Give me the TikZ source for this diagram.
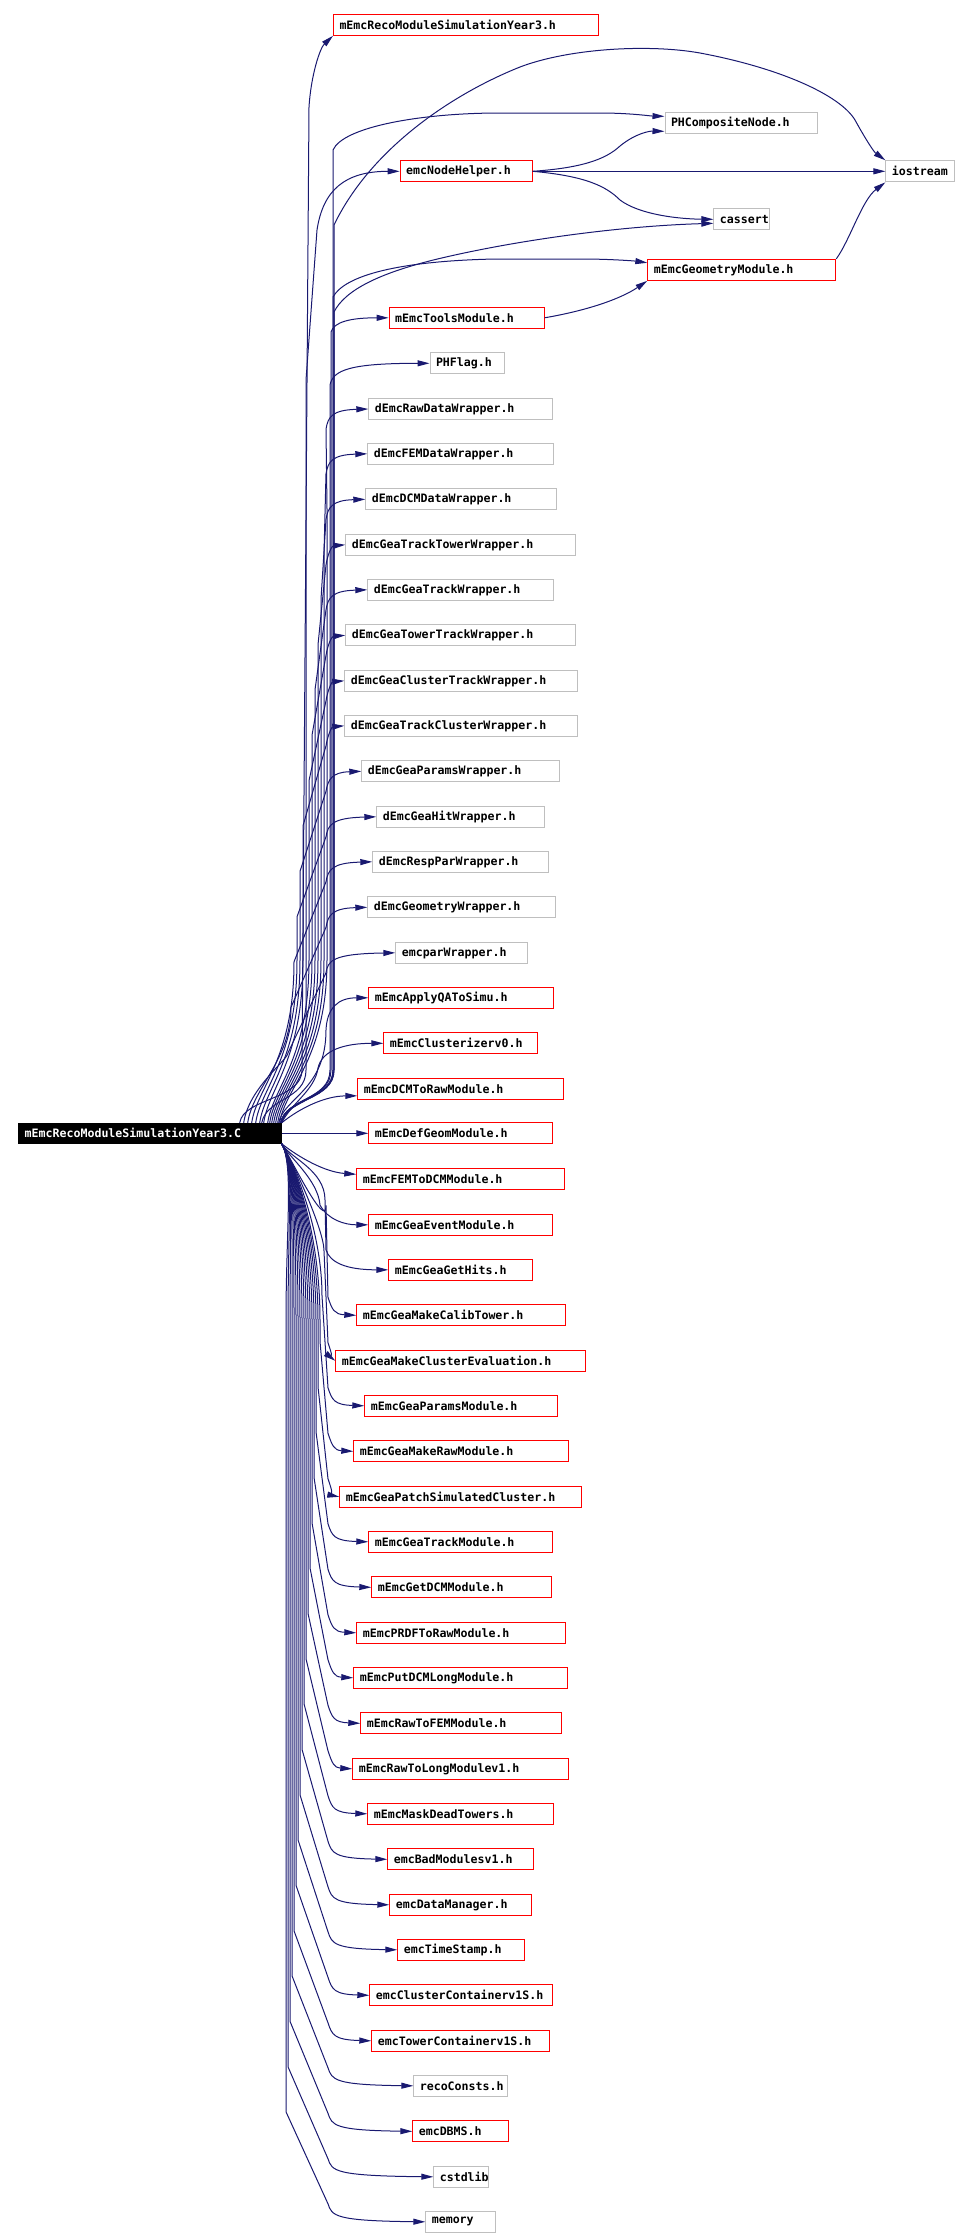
\documentclass[tikz,border=0pt]{standalone}
\usepackage{fontspec}
\newfontfamily\dmono{DejaVu Sans Mono}
\usetikzlibrary{arrows.meta}
\definecolor{eblue}{RGB}{25,25,112}
\definecolor{bred}{RGB}{255,0,0}
\definecolor{bgray}{RGB}{191,191,191}
\tikzset{
  hbox/.style={draw, line width=1pt, inner xsep=6pt, inner ysep=0pt, minimum height=21pt,
    align=left, anchor=west, font=\dmono\bfseries\fontsize{11.6}{13}\selectfont, text=black},
  redbox/.style={hbox, draw=bred},
  graybox/.style={hbox, draw=bgray},
  edge/.style={draw=eblue, line width=1pt, -{Triangle[length=12pt,width=6pt]}}
}
\newcommand\upE[4]{\draw[edge] ([xshift=-#4pt]main.north east) .. controls +(5,-35) and (#2,1060) .. (#2,{max(960,#3+100)}) -- (#2,#3+100) -- (326,#3+20) .. controls (328,#3+8) and (332,#3+1) .. (#1.west);}
\newcommand\dnE[3]{\draw[edge] (main.south east) .. controls +(12,20) and (#2,1230) .. (#2,{min(1320,#3-110)}) -- (#2,#3-110) -- (328,#3-18) .. controls (332,#3-6) and (334,#3-1) .. (#1.west);}
\begin{document}
\begin{tikzpicture}[x=1pt,y=-1pt]
\useasboundingbox (0,0) rectangle (959,2239);
% nodes
\node[redbox,text width=253pt] (year3h) at (333,24.8) {mEmcRecoModuleSimulationYear3.h};
\node[graybox,text width=140pt] (phcomp) at (664.5,123.3) {PHCompositeNode.h};
\node[redbox,text width=120pt] (nodehelper) at (399.7,171.3) {emcNodeHelper.h};
\node[graybox,text width=57pt] (iostream) at (885.4,171.3) {iostream};
\node[graybox,text width=44pt] (cassert) at (713.4,219.3) {cassert};
\node[redbox,text width=176pt] (geom) at (647.3,269.8) {mEmcGeometryModule.h};
\node[redbox,text width=143pt] (tools) at (388.6,317.8) {mEmcToolsModule.h};
\node[graybox,text width=62pt] (phflag) at (429.5,363.3) {PHFlag.h};
\node[graybox,text width=172pt] (raw) at (368.3,409) {dEmcRawDataWrapper.h};
\node[graybox,text width=174pt] (fem) at (367.3,453.8) {dEmcFEMDataWrapper.h};
\node[graybox,text width=179pt] (dcm) at (365.3,499.3) {dEmcDCMDataWrapper.h};
\node[graybox,text width=218pt] (tracktower) at (345.3,544.8) {dEmcGeaTrackTowerWrapper.h};
\node[graybox,text width=174pt] (track) at (367.3,589.8) {dEmcGeaTrackWrapper.h};
\node[graybox,text width=218pt] (towertrack) at (345.3,635.3) {dEmcGeaTowerTrackWrapper.h};
\node[graybox,text width=221pt] (clustertrack) at (344.3,680.8) {dEmcGeaClusterTrackWrapper.h};
\node[graybox,text width=221pt] (trackcluster) at (344.3,725.8) {dEmcGeaTrackClusterWrapper.h};
\node[graybox,text width=186pt] (params) at (361.3,771.3) {dEmcGeaParamsWrapper.h};
\node[graybox,text width=156pt] (hit) at (376.3,816.8) {dEmcGeaHitWrapper.h};
\node[graybox,text width=164pt] (resppar) at (372.3,861.8) {dEmcRespParWrapper.h};
\node[graybox,text width=176pt] (geomwrap) at (367.3,907.3) {dEmcGeometryWrapper.h};
\node[graybox,text width=120pt] (emcpar) at (395.3,952.8) {emcparWrapper.h};
\node[redbox,text width=173pt] (applyqa) at (368.3,997.8) {mEmcApplyQAToSimu.h};
\node[redbox,text width=142pt] (clusterizer) at (383.3,1043.3) {mEmcClusterizerv0.h};
\node[redbox,text width=194pt] (dcmtoraw) at (357.3,1088.8) {mEmcDCMToRawModule.h};
\node[redbox,text width=172pt] (defgeom) at (368.3,1133.3) {mEmcDefGeomModule.h};
\node[redbox,text width=196pt] (femtodcm) at (356.3,1179.3) {mEmcFEMToDCMModule.h};
\node[redbox,text width=172pt] (geaevent) at (368.3,1224.8) {mEmcGeaEventModule.h};
\node[redbox,text width=132pt] (gethits) at (388.3,1269.8) {mEmcGeaGetHits.h};
\node[redbox,text width=197pt] (calibtower) at (356.3,1315.3) {mEmcGeaMakeCalibTower.h};
\node[redbox,text width=238pt] (clustereval) at (335.3,1360.8) {mEmcGeaMakeClusterEvaluation.h};
\node[redbox,text width=181pt] (geaparams) at (364.3,1405.8) {mEmcGeaParamsModule.h};
\node[redbox,text width=203pt] (makeraw) at (353.3,1451.3) {mEmcGeaMakeRawModule.h};
\node[redbox,text width=230pt] (patch) at (339.3,1496.8) {mEmcGeaPatchSimulatedCluster.h};
\node[redbox,text width=172pt] (geatrack) at (368.3,1541.8) {mEmcGeaTrackModule.h};
\node[redbox,text width=168pt] (getdcm) at (371.3,1587.3) {mEmcGetDCMModule.h};
\node[redbox,text width=197pt] (prdf) at (356.3,1632.8) {mEmcPRDFToRawModule.h};
\node[redbox,text width=202pt] (putdcm) at (353.3,1677.8) {mEmcPutDCMLongModule.h};
\node[redbox,text width=189pt] (rawtofem) at (360.3,1723.3) {mEmcRawToFEMModule.h};
\node[redbox,text width=204pt] (rawtolong) at (352.3,1768.8) {mEmcRawToLongModulev1.h};
\node[redbox,text width=174pt] (mask) at (367.3,1813.8) {mEmcMaskDeadTowers.h};
\node[redbox,text width=134pt] (badmod) at (387.3,1859.3) {emcBadModulesv1.h};
\node[redbox,text width=130pt] (datamgr) at (389.3,1904.8) {emcDataManager.h};
\node[redbox,text width=115pt] (timestamp) at (397.3,1949.8) {emcTimeStamp.h};
\node[redbox,text width=171pt] (clustercont) at (369.3,1995.3) {emcClusterContainerv1S.h};
\node[redbox,text width=166pt] (towercont) at (371.3,2040.8) {emcTowerContainerv1S.h};
\node[graybox,text width=82pt] (reco) at (413.3,2085.8) {recoConsts.h};
\node[redbox,text width=84pt] (dbms) at (412.3,2131.3) {emcDBMS.h};
\node[graybox,text width=43pt] (cstdlib) at (433.3,2176.8) {cstdlib};
\node[graybox,text width=58pt] (memory) at (425.3,2221.8) {memory};
\node[hbox, draw=black, fill=black, text=white, minimum height=20pt, text width=250.5pt] (main) at (18.2,1133.3) {mEmcRecoModuleSimulationYear3.C};
% edges to the top nodes
\draw[edge] ([xshift=-42pt]main.north east) .. controls +(4,-25) and (302,1100) .. (302,1070) -- (309,107) .. controls (311,75) and (320,48) .. (year3h.south west);
\draw[edge] ([xshift=-1pt]main.north east) .. controls +(5,-25) and (333,1100) .. (333,1070) -- (333,150) .. controls (343,127) and (420,113) .. (500,113) -- (600,113) .. controls (630,113) and (650,116) .. ([yshift=7pt]phcomp.west);
\draw[edge] ([xshift=-20pt]main.north east) .. controls +(5,-25) and (306,1100) .. (306,1070) -- (306,380) -- (317,230) .. controls (323,190) and (345,171.3) .. (nodehelper.west);
\draw[edge] (main.north east) .. controls +(5,-25) and (334,1100) .. (334,1070) -- (334,225) .. controls (370,150) and (450,95) .. (520,67) .. controls (570,48) and (650,44) .. (700,53) .. controls (780,68) and (840,95) .. (855,120) .. controls (866,140) and (874,152) .. (iostream.north west);
\draw[edge] (main.north east) .. controls +(5,-25) and (334,1100) .. (334,1070) -- (334,312) .. controls (345,290) and (380,272) .. (446,257) .. controls (520,240) and (620,226) .. ([yshift=-4pt]cassert.west);
\draw[edge] ([xshift=-1pt]main.north east) .. controls +(5,-25) and (333,1100) .. (333,1070) -- (333,297) .. controls (345,275) and (400,261) .. (495,259) -- (582,259) .. controls (610,259) and (635,261) .. ([yshift=7pt]geom.west);
\draw[edge] ([xshift=-1pt]main.north east) .. controls +(5,-25) and (331,1100) .. (331,1070) -- (331,332) .. controls (334,322) and (350,317.8) .. (tools.west);
\draw[edge] ([xshift=-1pt]main.north east) .. controls +(5,-25) and (330,1100) .. (330,1070) -- (330,385) .. controls (333,370) and (350,363.3) .. (phflag.west);
% edges between the top nodes
\draw[edge] (nodehelper.east) .. controls (580,168) and (605,160) .. (620,146) .. controls (636,133) and (650,131) .. ([yshift=-8pt]phcomp.west);
\draw[edge] (nodehelper.east) -- (iostream.west);
\draw[edge] (nodehelper.east) .. controls (585,176) and (606,186) .. (620,200) .. controls (640,215) and (680,219) .. (cassert.west);
\draw[edge] (geom.north east) .. controls (850,240) and (862,200) .. (iostream.south west);
\draw[edge] (tools.east) .. controls (590,310) and (622,298) .. (geom.south west);
% upward edges
\upE{raw}{327}{409}{2}
\upE{fem}{324}{453.8}{4}
\upE{dcm}{321}{499.3}{6}
\upE{tracktower}{318}{544.8}{8}
\upE{track}{315}{589.8}{10}
\upE{towertrack}{312}{635.3}{12}
\upE{clustertrack}{309}{680.8}{14}
\upE{trackcluster}{303}{725.8}{18}
\upE{params}{300}{771.3}{22}
\upE{hit}{297}{816.8}{26}
\upE{resppar}{294}{861.8}{30}
\upE{geomwrap}{291}{907.3}{34}
\upE{emcpar}{288}{952.8}{38}
\draw[edge] ([xshift=-3pt]main.north east) .. controls +(5,-25) and (326,1090) .. (326,1030) .. controls (327,1008) and (338,997.8) .. (applyqa.west);
\draw[edge] (main.north east) .. controls +(10,-20) and (315,1090) .. (318,1068) .. controls (322,1050) and (345,1043.3) .. (clusterizer.west);
\draw[edge] (main.north east) .. controls (300,1108) and (325,1096) .. ([yshift=-7pt]dcmtoraw.west);
\draw[edge] (main.east) -- (defgeom.west);
\draw[edge] (main.south east) .. controls (300,1158) and (325,1172) .. ([yshift=5pt]femtodcm.west);
\draw[edge] (main.south east) .. controls +(8,14) and (318,1180) .. (320,1205) .. controls (328,1220) and (345,1224.8) .. (geaevent.west);
\draw[edge] (main.south east) .. controls +(8,14) and (325,1170) .. (325,1200) -- (326,1250) .. controls (330,1262) and (345,1269.8) .. (gethits.west);
% downward edges
\dnE{calibtower}{326}{1315.3}
\dnE{clustereval}{324}{1360.8}
\dnE{geaparams}{322}{1405.8}
\dnE{makeraw}{320}{1451.3}
\dnE{patch}{318}{1496.8}
\dnE{geatrack}{316}{1541.8}
\dnE{getdcm}{314}{1587.3}
\dnE{prdf}{312}{1632.8}
\dnE{putdcm}{310}{1677.8}
\dnE{rawtofem}{308}{1723.3}
\dnE{rawtolong}{306}{1768.8}
\dnE{mask}{304}{1813.8}
\dnE{badmod}{302}{1859.3}
\dnE{datamgr}{300}{1904.8}
\dnE{timestamp}{298}{1949.8}
\dnE{clustercont}{296}{1995.3}
\dnE{towercont}{294}{2040.8}
\dnE{reco}{292}{2085.8}
\dnE{dbms}{290}{2131.3}
\dnE{cstdlib}{288}{2176.8}
\dnE{memory}{286}{2221.8}
\end{tikzpicture}
\end{document}
